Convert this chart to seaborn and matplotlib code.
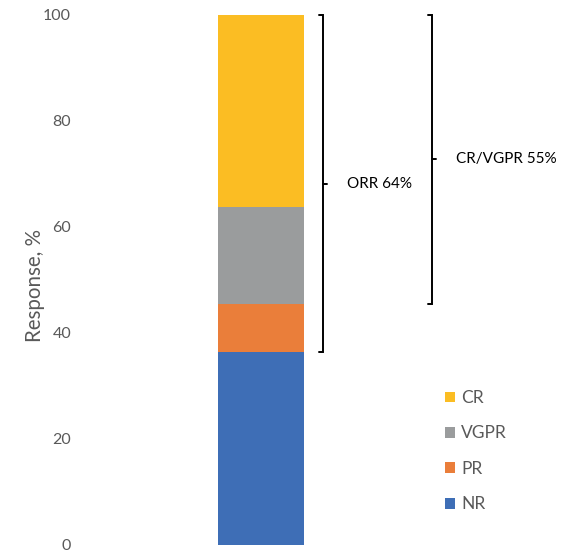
import matplotlib
matplotlib.use("Agg")
import matplotlib.pyplot as plt
import seaborn as sns
import pandas as pd
from matplotlib.patches import Patch

# Response categories (bottom to top) and their share of patients, %
categories = ["NR", "PR", "VGPR", "CR"]
values = [36.4, 9.1, 18.2, 36.3]
colors = ["#3E6EB6", "#EA7E3A", "#9A9C9D", "#FBBD23"]

# Summary brackets: label, lower bound, upper bound
bracket_labels = ["ORR 64%", "CR/VGPR 55%"]
bracket_low = [36.4, 45.5]
bracket_high = [100, 100]

sns.set_theme(style="white")
plt.rcParams["font.family"] = ["Lato", "DejaVu Sans"]

fig = plt.figure(figsize=(5.61, 5.52), dpi=100)
ax = fig.add_axes([85 / 561, 7 / 552, 476 / 561, 530 / 552])

# Stack by drawing cumulative totals, tallest first
cum = []
total = 0
for v in values:
    total += v
    cum.append(total)
for cat, c, col in reversed(list(zip(categories, cum, colors))):
    df = pd.DataFrame({"group": ["all"], "value": [c]})
    sns.barplot(data=df, x="group", y="value", color=col, width=0.488,
                saturation=1, ax=ax, linewidth=0)

ax.set_xlim(-1, 1.703)
ax.set_ylim(0, 100)
ax.set_yticks([0, 20, 40, 60, 80, 100])
ax.set_xticks([])
ax.set_xlabel("")
ax.set_ylabel("Response, %", fontsize=14.8, color="#595959")
ax.yaxis.set_label_coords(-0.084, 0.49)
ax.tick_params(axis="y", length=0, pad=10, labelsize=11.5, labelcolor="#595959")
for s in ax.spines.values():
    s.set_visible(False)

# Brackets with labels
bracket_x = [0.3515, 0.970]
for lab, lo, hi, bx in zip(bracket_labels, bracket_low, bracket_high, bracket_x):
    arm = 0.022
    ax.plot([bx - arm, bx, bx, bx - arm], [hi, hi, lo, lo], color="black",
            lw=1.4, solid_joinstyle="miter", clip_on=False)
    mid = (lo + hi) / 2
    ax.plot([bx, bx + arm], [mid, mid], color="black", lw=1.4, clip_on=False)
    ax.text(bx + 0.135, mid, lab, fontsize=11, color="black", va="center", ha="left")

handles = [Patch(facecolor=col, edgecolor="none") for col in reversed(colors)]
leg = ax.legend(handles, list(reversed(categories)), loc="upper left",
                bbox_to_anchor=(445 / 561, 1 - 390 / 552), bbox_transform=fig.transFigure,
                frameon=False, fontsize=12.5, labelspacing=1.12, handlelength=0.57,
                handleheight=0.57, handletextpad=0.35, borderpad=0, borderaxespad=0)
for t in leg.get_texts():
    t.set_color("#595959")

fig.savefig("out.png", dpi=100)
